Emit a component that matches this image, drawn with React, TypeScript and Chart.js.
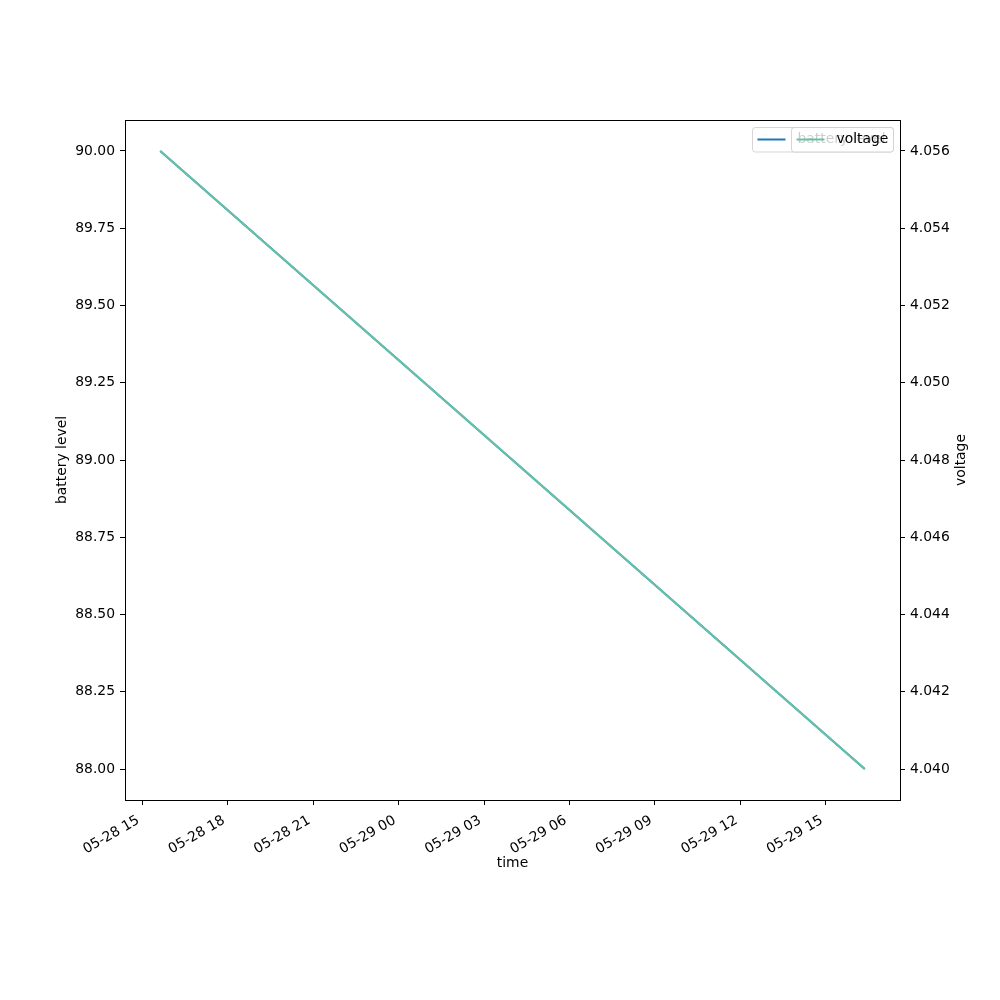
import React, { useEffect, useRef } from "react";
import { Chart, registerables } from "chart.js";

Chart.register(...registerables);

// Data: hours since 2023-05-28 00:00
const timeHours = [15.63, 40.37];
const batteryLevel = [90.0, 88.0];
const voltage = [4.056, 4.04];

const xTickHours = [15, 18, 21, 24, 27, 30, 33, 36, 39];
const xTickLabels = [
  "05-28 15",
  "05-28 18",
  "05-28 21",
  "05-29 00",
  "05-29 03",
  "05-29 06",
  "05-29 09",
  "05-29 12",
  "05-29 15",
];
const leftTicks = [88.0, 88.25, 88.5, 88.75, 89.0, 89.25, 89.5, 89.75, 90.0];
const rightTicks = [4.04, 4.042, 4.044, 4.046, 4.048, 4.05, 4.052, 4.054, 4.056];

const seriesNames = ["battery level", "voltage"];
const seriesColors = ["#1f77b4", "#66c2a5"];

const FONT = "DejaVu Sans";
const FS = 13.9;

function pad(arr: number[], frac: number) {
  const mn = Math.min(...arr);
  const mx = Math.max(...arr);
  const m = (mx - mn) * frac;
  return [mn - m, mx + m];
}

export default function App() {
  const ref = useRef<HTMLCanvasElement | null>(null);

  useEffect(() => {
    if (!ref.current) return;
    const [xmin, xmax] = pad(timeHours, 0.05);
    const [ymin, ymax] = pad(batteryLevel, 0.05);
    const [vmin, vmax] = pad(voltage, 0.05);

    const roundRect = (ctx: CanvasRenderingContext2D, x: number, y: number, w: number, h: number, r: number) => {
      ctx.beginPath();
      ctx.moveTo(x + r, y);
      ctx.lineTo(x + w - r, y);
      ctx.arcTo(x + w, y, x + w, y + r, r);
      ctx.lineTo(x + w, y + h - r);
      ctx.arcTo(x + w, y + h, x + w - r, y + h, r);
      ctx.lineTo(x + r, y + h);
      ctx.arcTo(x, y + h, x, y + h - r, r);
      ctx.lineTo(x, y + r);
      ctx.arcTo(x, y, x + r, y, r);
      ctx.closePath();
    };

    const decor = {
      id: "decor",
      afterDraw(chart: any) {
        const ctx = chart.ctx as CanvasRenderingContext2D;
        const a = chart.chartArea;
        ctx.save();
        // frame
        ctx.strokeStyle = "#000";
        ctx.lineWidth = 1;
        ctx.strokeRect(Math.round(a.left) + 0.5, Math.round(a.top) + 0.5, Math.round(a.right - a.left), Math.round(a.bottom - a.top));

        // axis titles
        ctx.fillStyle = "#000";
        ctx.font = `${FS}px "${FONT}"`;
        ctx.textAlign = "center";
        ctx.textBaseline = "middle";
        ctx.fillText("time", (a.left + a.right) / 2, 863);
        ctx.save();
        ctx.translate(62, (a.top + a.bottom) / 2);
        ctx.rotate(-Math.PI / 2);
        ctx.fillText("battery level", 0, 0);
        ctx.restore();
        ctx.save();
        ctx.translate(961, (a.top + a.bottom) / 2);
        ctx.rotate(-Math.PI / 2);
        ctx.fillText("voltage", 0, 0);
        ctx.restore();

        // legends
        const drawLegend = (x: number, label: string, color: string) => {
          const y = 127.5;
          const w = 893.5 - x;
          const h = 24.5;
          roundRect(ctx, x, y, w, h, 2.8);
          ctx.fillStyle = "rgba(255,255,255,0.8)";
          ctx.fill();
          ctx.strokeStyle = "rgba(204,204,204,0.8)";
          ctx.lineWidth = 1;
          ctx.stroke();
          ctx.beginPath();
          ctx.moveTo(x + 5, 139.5);
          ctx.lineTo(x + 33, 139.5);
          ctx.strokeStyle = color;
          ctx.lineWidth = 2;
          ctx.stroke();
          ctx.fillStyle = "#000";
          ctx.textAlign = "left";
          ctx.textBaseline = "middle";
          ctx.fillText(label, x + 45, 139.5);
        };
        drawLegend(752.5, seriesNames[0], seriesColors[0]);
        drawLegend(791.5, seriesNames[1], seriesColors[1]);
        ctx.restore();
      },
    };

    const chart = new Chart(ref.current, {
      type: "line",
      data: {
        datasets: [
          {
            label: seriesNames[0],
            data: timeHours.map((t, i) => ({ x: t, y: batteryLevel[i] })),
            borderColor: seriesColors[0],
            backgroundColor: seriesColors[0],
            borderWidth: 2,
            pointRadius: 0,
            yAxisID: "y",
            order: 2,
          },
          {
            label: seriesNames[1],
            data: timeHours.map((t, i) => ({ x: t, y: voltage[i] })),
            borderColor: seriesColors[1],
            backgroundColor: seriesColors[1],
            borderWidth: 2,
            pointRadius: 0,
            yAxisID: "y1",
            order: 1,
          },
        ],
      },
      options: {
        animation: false,
        responsive: false,
        maintainAspectRatio: false,
        layout: { padding: { top: 120, left: 0, right: 0, bottom: 0 } },
        plugins: { legend: { display: false }, tooltip: { enabled: false } },
        scales: {
          x: {
            type: "linear",
            min: xmin,
            max: xmax,
            afterBuildTicks: (s: any) => {
              s.ticks = xTickHours.map((v) => ({ value: v }));
            },
            afterFit: (s: any) => {
              s.height = 200;
            },
            grid: { drawOnChartArea: false, drawTicks: true, tickLength: 5, color: "#000" },
            border: { display: false },
            ticks: {
              autoSkip: false,
              minRotation: 30,
              maxRotation: 30,
              padding: 5,
              color: "#000",
              font: { family: FONT, size: FS },
              callback: (v: any) => {
                const i = xTickHours.indexOf(Number(v));
                return i >= 0 ? xTickLabels[i] + " " : "";
              },
            },
          },
          y: {
            type: "linear",
            position: "left",
            min: ymin,
            max: ymax,
            afterBuildTicks: (s: any) => {
              s.ticks = leftTicks.map((v) => ({ value: v }));
            },
            afterFit: (s: any) => {
              s.width = 125;
            },
            grid: { drawOnChartArea: false, drawTicks: true, tickLength: 5, color: "#000" },
            border: { display: false },
            ticks: {
              padding: 5,
              color: "#000",
              font: { family: FONT, size: FS },
              callback: (v: any) => Number(v).toFixed(2),
            },
          },
          y1: {
            type: "linear",
            position: "right",
            min: vmin,
            max: vmax,
            afterBuildTicks: (s: any) => {
              s.ticks = rightTicks.map((v) => ({ value: v }));
            },
            afterFit: (s: any) => {
              s.width = 100;
            },
            grid: { drawOnChartArea: false, drawTicks: true, tickLength: 5, color: "#000" },
            border: { display: false },
            ticks: {
              padding: 5,
              color: "#000",
              font: { family: FONT, size: FS },
              callback: (v: any) => Number(v).toFixed(3),
            },
          },
        },
      },
      plugins: [decor],
    });
    return () => chart.destroy();
  }, []);

  return (
    <div style={{ position: "absolute", left: 0, top: 0, width: 1000, height: 1000, background: "#fff" }}>
      <canvas ref={ref} width={1000} height={1000} style={{ width: 1000, height: 1000 }} />
    </div>
  );
}
